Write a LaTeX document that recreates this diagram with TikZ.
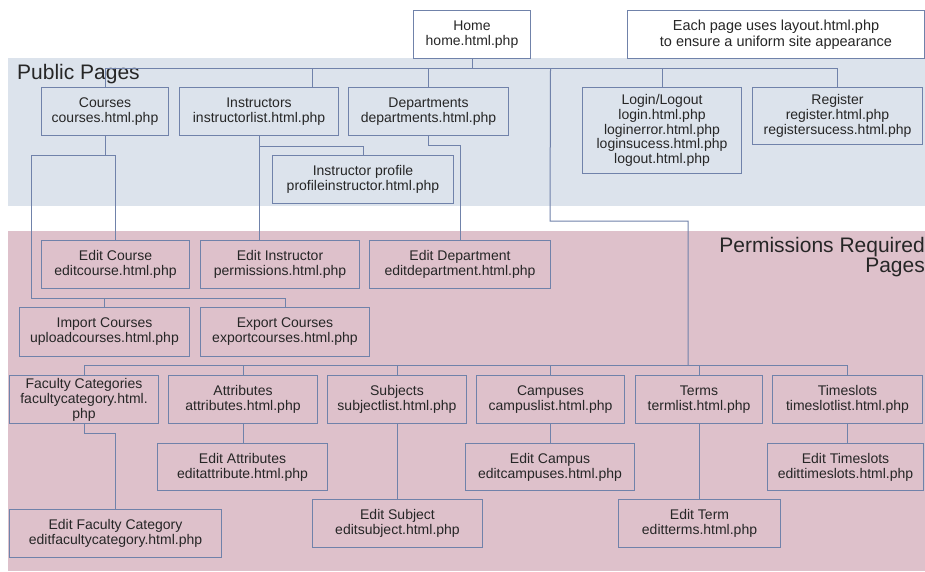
\documentclass[tikz,border=0pt]{standalone}
\usepackage{fontspec}
\setmainfont{Liberation Sans}
\definecolor{pubcol}{HTML}{DCE3EC}
\definecolor{permcol}{HTML}{DEC1CB}
\definecolor{edgecol}{HTML}{7082AA}
\definecolor{txtcol}{HTML}{262626}
\tikzset{
  pg/.style={draw=edgecol, line width=1pt, inner sep=0pt, align=center, text=txtcol,
    font=\fontsize{14}{15}\selectfont, anchor=north west},
  wire/.style={draw=edgecol, line width=1pt},
  bandlabel/.style={inner sep=0pt, text=txtcol, font=\fontsize{21}{16}\selectfont}
}
\begin{document}
\begin{tikzpicture}[x=1pt,y=-1pt]
\useasboundingbox (0,0) rectangle (925,571);
\fill[white] (0,0) rectangle (925,571);
% bands
\fill[pubcol] (8,58) rectangle (925,206);
\fill[permcol] (8,231) rectangle (925,571);
\node[bandlabel, anchor=base west] (publbl) at (17,79) {Public Pages};
\node[bandlabel, anchor=north east, align=right] (permlbl) at (925,237.5) {Permissions Required\\Pages};
% top
\node[pg, fill=white, minimum width=117pt, minimum height=48pt] (home) at (413,10) {Home\\home.html.php};
\node[pg, fill=white, minimum width=297pt, minimum height=48pt, font=\fontsize{14.5}{15.5}\selectfont] (note) at (627,10) {Each page uses layout.html.php\\to ensure a uniform site appearance};
% public
\node[pg, minimum width=127pt, minimum height=48pt] (courses) at (41,87) {Courses\\courses.html.php};
\node[pg, minimum width=159pt, minimum height=48pt] (instr) at (179,87) {Instructors\\instructorlist.html.php};
\node[pg, minimum width=160pt, minimum height=48pt] (dept) at (348,87) {Departments\\departments.html.php};
\node[pg, minimum width=159pt, minimum height=86pt, font=\fontsize{14}{14.6}\selectfont] (login) at (582,87) {Login/Logout\\login.html.php\\loginerror.html.php\\loginsucess.html.php\\logout.html.php};
\node[pg, minimum width=170pt, minimum height=57pt] (register) at (752,87) {Register\\register.html.php\\registersucess.html.php};
\node[pg, minimum width=181pt, minimum height=48pt] (profile) at (272,155) {Instructor profile\\profileinstructor.html.php};
% permissions
\node[pg, minimum width=148pt, minimum height=48pt] (editcourse) at (41,240) {Edit Course\\editcourse.html.php};
\node[pg, minimum width=159pt, minimum height=48pt] (editinstr) at (200,240) {Edit Instructor\\permissions.html.php};
\node[pg, minimum width=181pt, minimum height=48pt] (editdept) at (369,240) {Edit Department\\editdepartment.html.php};
\node[pg, minimum width=170pt, minimum height=49pt] (import) at (19,307) {Import Courses\\uploadcourses.html.php};
\node[pg, minimum width=169pt, minimum height=49pt] (export) at (200,307) {Export Courses\\exportcourses.html.php};
\node[pg, minimum width=149pt, minimum height=48pt] (faculty) at (9,375) {Faculty Categories\\facultycategory.html.\\php};
\node[pg, minimum width=149pt, minimum height=48pt] (attr) at (168,375) {Attributes\\attributes.html.php};
\node[pg, minimum width=139pt, minimum height=48pt] (subj) at (327,375) {Subjects\\subjectlist.html.php};
\node[pg, minimum width=148pt, minimum height=48pt] (campus) at (476,375) {Campuses\\campuslist.html.php};
\node[pg, minimum width=127pt, minimum height=48pt] (terms) at (635,375) {Terms\\termlist.html.php};
\node[pg, minimum width=150pt, minimum height=48pt] (times) at (772,375) {Timeslots\\timeslotlist.html.php};
\node[pg, minimum width=170pt, minimum height=47pt] (editattr) at (157,443) {Edit Attributes\\editattribute.html.php};
\node[pg, minimum width=169pt, minimum height=47pt] (editcampus) at (465,443) {Edit Campus\\editcampuses.html.php};
\node[pg, minimum width=156pt, minimum height=47pt] (edittimes) at (767,443) {Edit Timeslots\\edittimeslots.html.php};
\node[pg, minimum width=212pt, minimum height=48pt] (editfac) at (9,509) {Edit Faculty Category\\editfacultycategory.html.php};
\node[pg, minimum width=170pt, minimum height=48pt] (editsubj) at (312,499) {Edit Subject\\editsubject.html.php};
\node[pg, minimum width=162pt, minimum height=48pt] (editterm) at (618,499) {Edit Term\\editterms.html.php};
% connectors: top bus
\draw[wire] (courses.north) -- ++(0,-19) coordinate (bus) -| (register.north);
\draw[wire] (home.south) -- (home.south |- bus);
\draw[wire] ([xshift=53.5pt]instr.north) -- ([xshift=53.5pt]instr.north |- bus);
\draw[wire] (dept.north) -- (dept.north |- bus);
\draw[wire] (login.north) -- (login.north |- bus);
% to permissions lower bus
\coordinate (p1) at (550,221);
\coordinate (p2) at (688,365);
\draw[wire] (campus.north |- bus) -- (p1) -- (p2 |- p1) -- (p2);
% courses
\draw[wire] (courses.south) -- ++(0,19) coordinate (c1) -| (editcourse.north);
\coordinate (c2) at (31,298);
\draw[wire] (c1) -| (c2) -| (export.north);
\draw[wire] (import.north) -- (import.north |- c2);
% instructors
\draw[wire] (instr.south) -- (instr.south |- editinstr.north);
\draw[wire] (instr.south) ++(0,10) -| (profile.north);
% departments
\draw[wire] (dept.south) -- ++(0,9) -| (editdept.north);
% lower bus
\draw[wire] (faculty.north) -- ++(0,-10) coordinate (bus2) -| (times.north);
\draw[wire] (attr.north) -- (attr.north |- bus2);
\draw[wire] (subj.north) -- (subj.north |- bus2);
\draw[wire] (campus.north) -- (campus.north |- bus2);
\draw[wire] (terms.north) -- (terms.north |- bus2);
% edits
\draw[wire] (faculty.south) -- ++(0,9) -| (editfac.north);
\draw[wire] (attr.south) -- (attr.south |- editattr.north);
\draw[wire] (subj.south) -- (subj.south |- editsubj.north);
\draw[wire] (campus.south) -- (campus.south |- editcampus.north);
\draw[wire] (terms.south) -- (terms.south |- editterm.north);
\draw[wire] (times.south) -- (times.south |- edittimes.north);
\end{tikzpicture}
\end{document}
